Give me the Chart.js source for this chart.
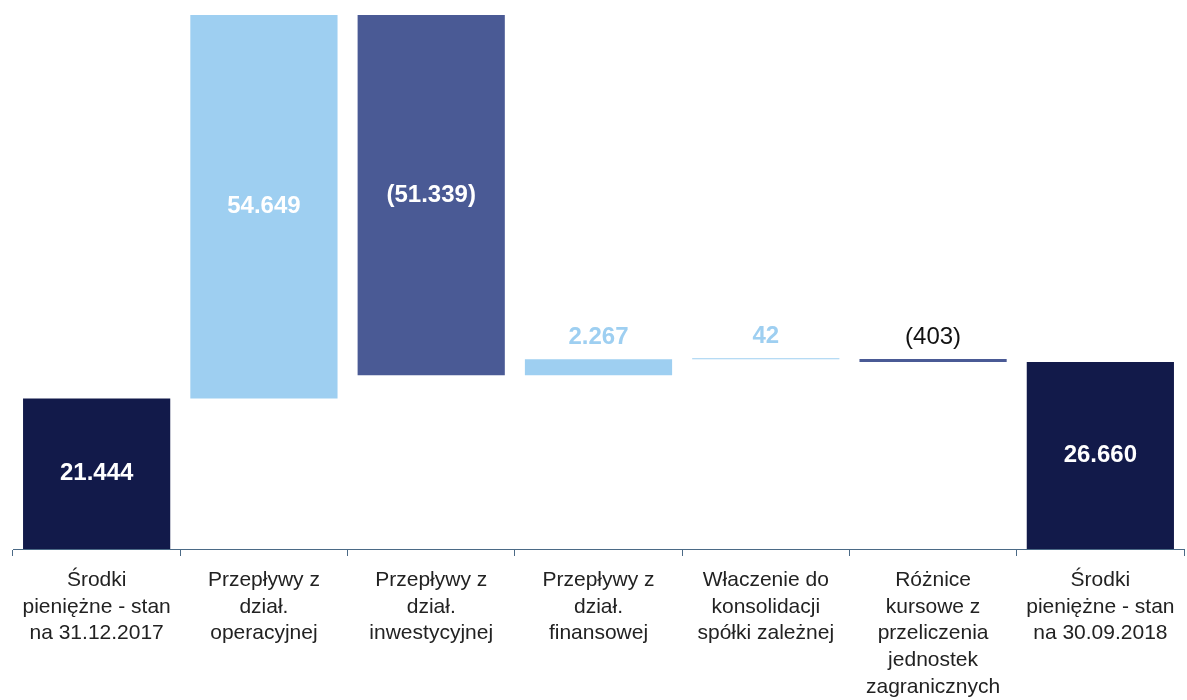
<!DOCTYPE html>
<html>
<head>
<meta charset="utf-8">
<script src="https://cdn.jsdelivr.net/npm/chart.js@4/dist/chart.umd.min.js"></script>
<style>
  html, body { margin: 0; padding: 0; background: #fff; }
  #wrap { width: 1187px; height: 700px; position: relative; }
</style>
</head>
<body>
<div id="wrap"><canvas id="waterfallCanvas"></canvas></div>
<script>
const categories = [
  ["Środki", "pieniężne - stan", "na 31.12.2017"],
  ["Przepływy z", "dział.", "operacyjnej"],
  ["Przepływy z", "dział.", "inwestycyjnej"],
  ["Przepływy z", "dział.", "finansowej"],
  ["Właczenie do", "konsolidacji", "spółki zależnej"],
  ["Różnice", "kursowe z", "przeliczenia", "jednostek", "zagranicznych"],
  ["Środki", "pieniężne - stan", "na 30.09.2018"],
];
const values = [21444, 54649, -51339, 2267, 42, -403, 26660];
const isTotal = [true, false, false, false, false, false, true];

const colors = ["#121a4a", "#9ecff1", "#4a5a95", "#9ecff1", "#9ecff1", "#4a5a95", "#121a4a"];
const labelColors = ["#fff", "#fff", "#fff", "#9ecff1", "#9ecff1", "#111", "#fff"];
const labelInside = [true, true, true, false, false, false, true];
const labelBold = [true, true, true, true, true, false, true];

// floating bars [start, end] from the running total
let running = 0;
const ranges = values.map((v, i) => {
  if (isTotal[i]) {
    running = v;
    return [0, v];
  }
  const start = running;
  running += v;
  return [start, running];
});
const peak = Math.max(...ranges.map((r) => Math.max(r[0], r[1])));

function fmt(v) {
  const s = Math.abs(v).toString().replace(/\B(?=(\d{3})+(?!\d))/g, ".");
  return v < 0 ? "(" + s + ")" : s;
}

const FONT = 'Arial, "Liberation Sans", sans-serif';

const valueLabels = {
  id: "value_labels",
  afterDatasetsDraw: (chart) => {
    const { ctx } = chart;
    const meta = chart.getDatasetMeta(0);
    ctx.save();
    ctx.textAlign = "center";
    ctx.textBaseline = "middle";
    meta.data.forEach((bar, i) => {
      ctx.font = (labelBold[i] ? "bold " : "") + "24px " + FONT;
      ctx.fillStyle = labelColors[i];
      const top = Math.min(bar.y, bar.base);
      const bottom = Math.max(bar.y, bar.base);
      const y = labelInside[i] ? (top + bottom) / 2 : top - 22;
      ctx.fillText(fmt(values[i]), bar.x, y);
    });
    ctx.restore();
  },
};

const config = {
  type: "bar",
  data: {
    labels: categories,
    datasets: [
      {
        data: ranges,
        backgroundColor: colors,
        borderWidth: 0,
        minBarLength: 1,
        barPercentage: 0.88,
        categoryPercentage: 1,
      },
    ],
  },
  options: {
    responsive: true,
    maintainAspectRatio: false,
    animation: false,
    layout: { padding: { top: 15, left: 13, right: 3, bottom: 0 } },
    plugins: {
      legend: { display: false },
      tooltip: { enabled: false },
    },
    scales: {
      x: {
        grid: {
          display: true,
          offset: true,
          drawOnChartArea: false,
          drawTicks: true,
          tickLength: 7,
          color: "#4b6a86",
          lineWidth: 1,
        },
        border: { display: true, color: "#4b6a86", width: 1 },
        ticks: {
          font: { size: 21, family: FONT, lineHeight: 1.27 },
          color: "#222",
          padding: 11,
          maxRotation: 0,
          autoSkip: false,
        },
        afterFit: (scale) => {
          scale.height = 151;
        },
      },
      y: {
        display: false,
        min: 0,
        max: peak,
      },
    },
  },
  plugins: [valueLabels],
};

Chart.defaults.font.family = FONT;
const canvas = document.getElementById("waterfallCanvas");
new Chart(canvas.getContext("2d"), config);
</script>
</body>
</html>
